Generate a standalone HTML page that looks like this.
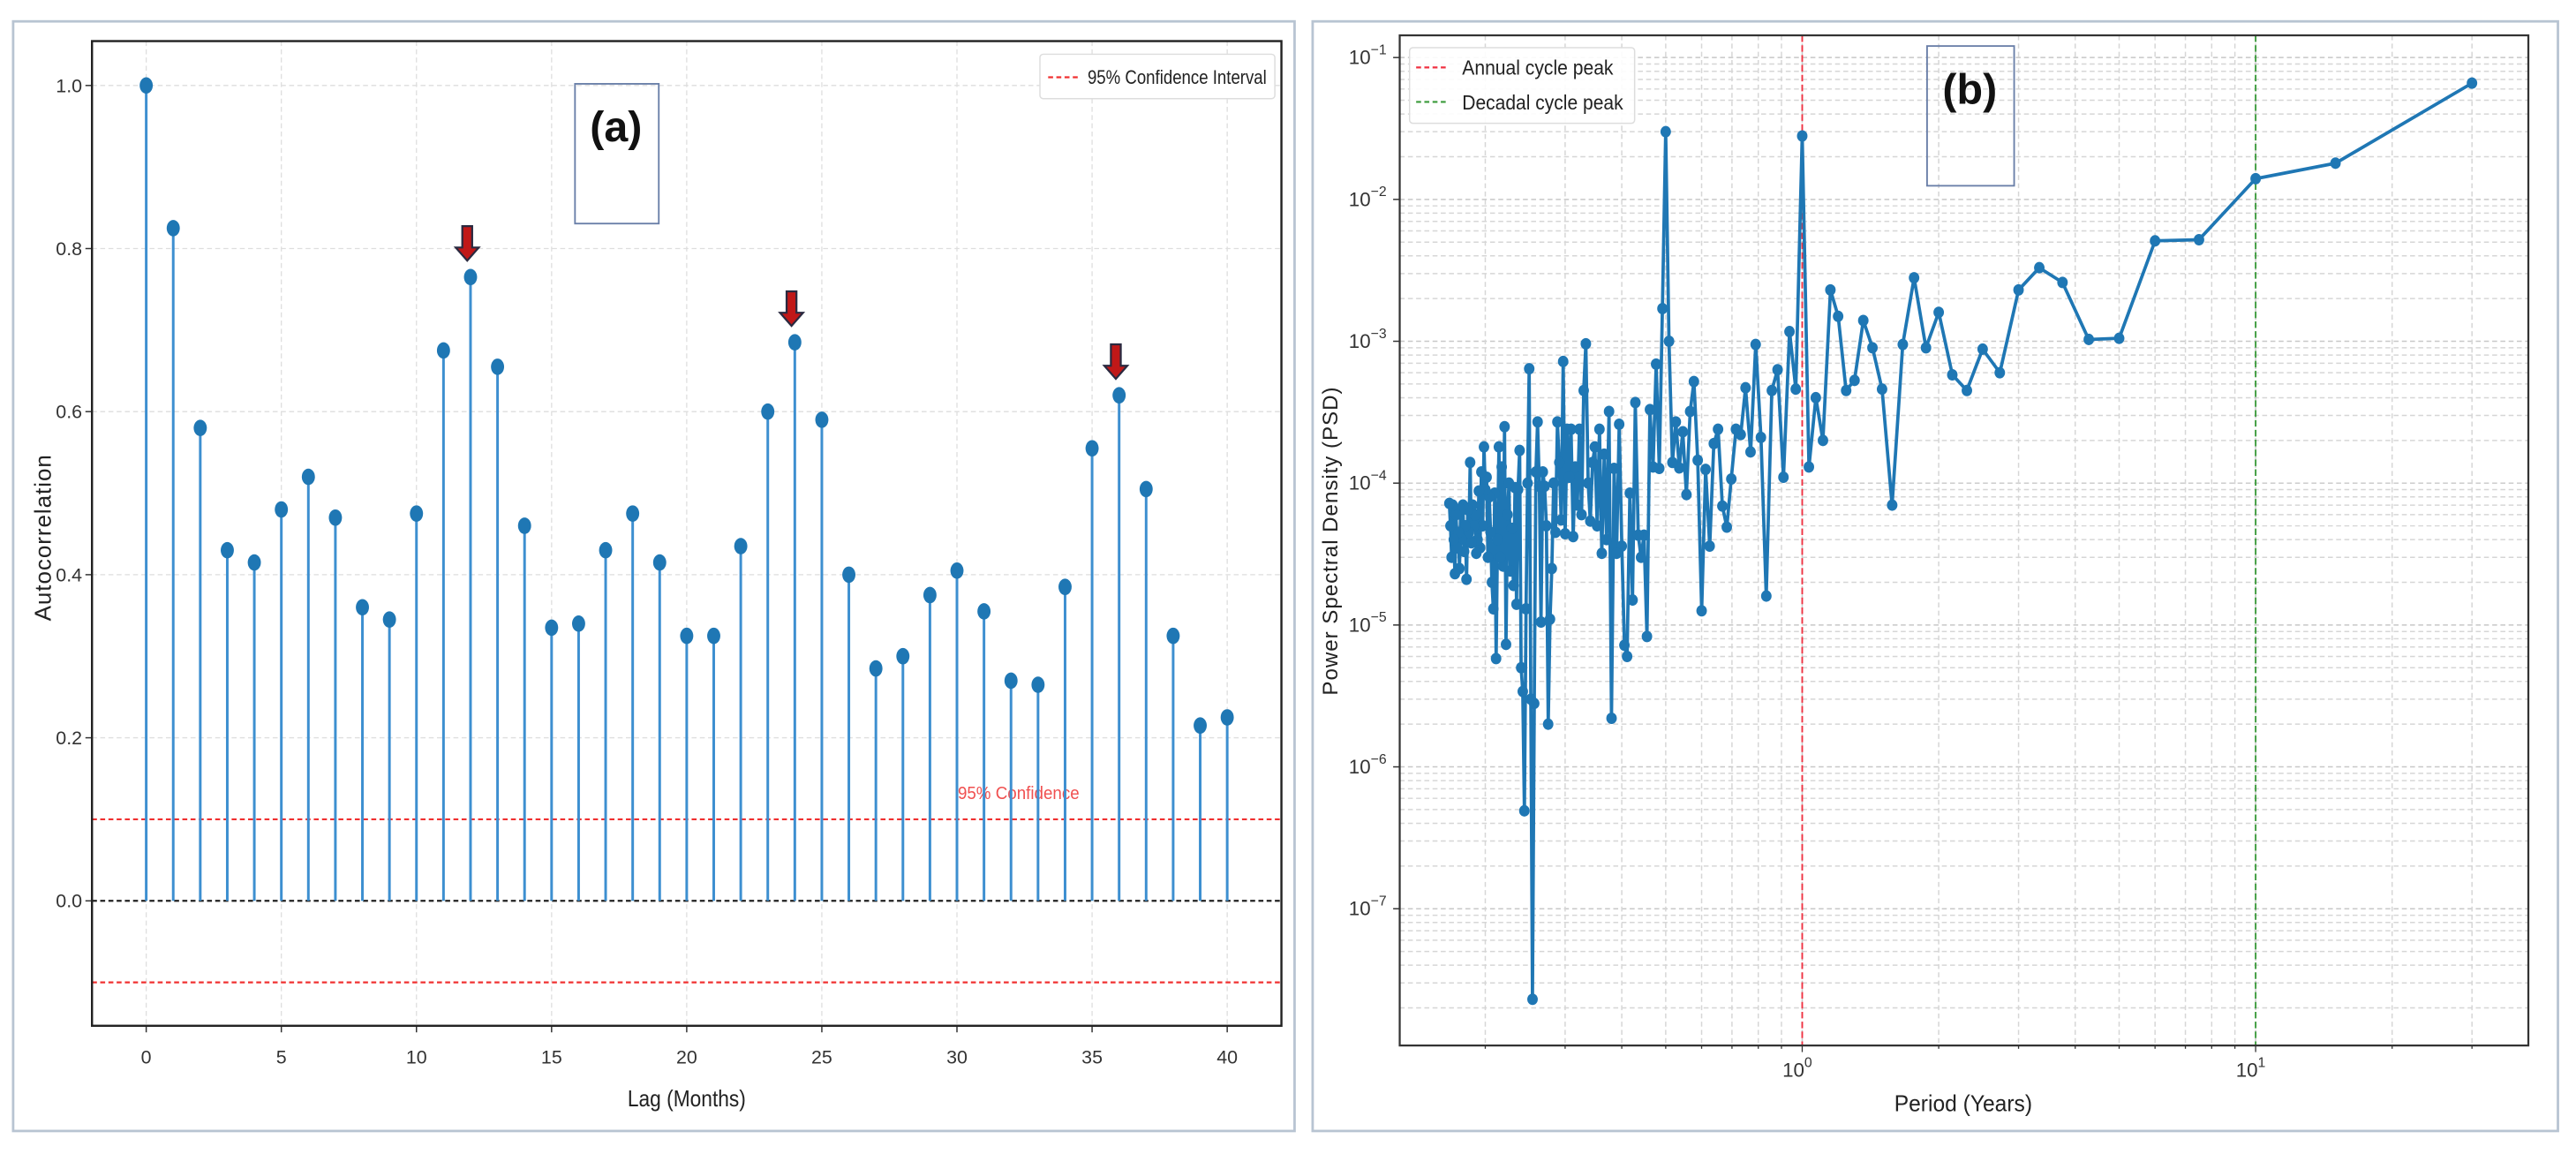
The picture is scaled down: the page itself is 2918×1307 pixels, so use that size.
<!DOCTYPE html>
<html><head><meta charset="utf-8">
<style>
html,body{margin:0;padding:0;background:#fff;}
svg{display:block;}
text{font-family:"Liberation Sans Narrow","Liberation Sans",sans-serif;}
</style></head>
<body>
<svg id="fig" width="2918" height="1307" viewBox="0 0 1568 702" preserveAspectRatio="none" xmlns="http://www.w3.org/2000/svg">
<rect x="0" y="0" width="1568" height="702" fill="#fff"/>
<rect x="8" y="13" width="780" height="675" fill="none" stroke="#b8c4d2" stroke-width="1.5"/>
<rect x="799" y="13" width="758" height="675" fill="none" stroke="#b8c4d2" stroke-width="1.5"/>
<g id="pa"></g>
<g id="pb"></g>
</svg>
<script>
// ---------- Panel (a) data ----------
const lags = [0,1,2,3,4,5,6,7,8,9,10,11,12,13,14,15,16,17,18,19,20,21,22,23,24,25,26,27,28,29,30,31,32,33,34,35,36,37,38,39,40];
const acfValues = [1.0,0.825,0.58,0.43,0.415,0.48,0.52,0.47,0.36,0.345,0.475,0.675,0.765,0.655,0.46,0.335,0.34,0.43,0.475,0.415,0.325,0.325,0.435,0.60,0.685,0.59,0.40,0.285,0.30,0.375,0.405,0.355,0.27,0.265,0.385,0.555,0.62,0.505,0.325,0.215,0.225];
const acfXTicks = [0,5,10,15,20,25,30,35,40];
const acfYTicks = [0.0,0.2,0.4,0.6,0.8,1.0];
const confLevel = [0.1,-0.1];
const arrowLags = [12,24,36];

// ---------- Panel (b) data ----------
const freqIndex = [];
for (let k = 1; k <= 180; k++) freqIndex.push(k);
const totalYears = 30;
const psdValues = [0.066,0.018,0.014,0.0052,0.0051,0.00105,0.00103,0.0026,0.0033,0.0023,
0.0006,0.00088,0.00045,0.00058,0.0016,0.0009,0.0028,0.00095,0.00007,0.00046,
0.0009,0.0014,0.00053,0.00045,0.0015,0.0023,0.0002,0.0004,0.00013,0.028,
0.00046,0.00117,0.00011,0.00063,0.00045,0.000016,0.00021,0.00095,0.000166,0.00047,
0.00022,0.00024,0.000107,0.000049,0.000069,0.00024,0.00019,0.000036,0.000125,0.0000126,
0.000145,0.00052,0.00032,0.000083,0.00023,0.000128,0.00027,0.00014,0.001,0.030,
0.0017,0.000127,0.00069,0.00013,0.00033,0.0000083,0.000043,0.00003,0.000043,0.00037,
0.000015,0.000085,0.000006,0.0000072,0.000036,0.00026,0.000032,0.000127,0.0000022,0.00032,
0.00004,0.00016,0.000032,0.00024,0.00005,0.00018,0.00014,0.000054,0.0001,0.00096,
0.00045,0.00006,0.00024,0.00007,0.00013,0.000042,0.00024,0.00011,0.00024,0.000044,
0.00072,0.000055,0.00014,0.00027,0.000045,0.0001,0.000025,0.000011,0.000002,0.00005,
0.000095,0.00012,0.0000105,0.000095,0.00027,0.00012,0.0000028,0.000000023,0.000003,0.00064,
0.0001,0.000013,0.00000049,0.0000034,0.000005,0.00017,0.00009,0.000014,0.000093,0.000019,
0.000048,0.000024,0.0001,0.00006,0.0000073,0.00025,0.000026,0.00013,0.00003,0.00018,
0.00004,0.0000058,0.000085,0.000013,0.00002,0.000045,0.00008,0.00003,0.00011,0.00009,
0.00018,0.00005,0.00012,0.000035,0.000088,0.00004,0.000032,0.00006,0.00005,0.00007,
0.000038,0.00014,0.000045,0.000065,0.000021,0.00005,0.000033,0.00007,0.00004,0.000065,
0.000025,0.000045,0.000035,0.00006,0.000023,0.00004,0.00007,0.00003,0.00005,0.000072];
const psdYTickExp = [-7,-6,-5,-4,-3,-2,-1];
const psdXTickExp = [0,1];
const annualPeriod = 1;
const decadalPeriod = 10;

const NS = "http://www.w3.org/2000/svg";
function mk(parent, tag, attrs, text) {
  const e = document.createElementNS(NS, tag);
  for (const k in attrs) e.setAttribute(k, attrs[k]);
  if (text !== undefined) e.textContent = text;
  parent.appendChild(e);
  return e;
}

// ---------- Panel (a) ----------
(function(){
  const g = document.getElementById('pa');
  const L = 56, R = 780, T = 25, B = 624;
  const xS = v => 89 + (v - 0) * (747 - 89) / 40;
  const yS = v => 548 - v * 496;
  acfXTicks.forEach(t => {
    const l = mk(g,'line',{x1:xS(t),x2:xS(t),y1:T,y2:B,stroke:'#dedede','stroke-width':0.7,'stroke-dasharray':'3 2'});
    
    
    const tx = mk(g,'text',{x:xS(t),y:647,'font-size':11.5,'text-anchor':'middle',fill:'#333'}, String(t));
    
    
    mk(g,'line',{x1:xS(t),x2:xS(t),y1:B,y2:B+4,stroke:'#333','stroke-width':0.8});
  });
  acfYTicks.forEach(t => {
    const l = mk(g,'line',{x1:L,x2:R,y1:yS(t),y2:yS(t),stroke:'#dedede','stroke-width':0.7,'stroke-dasharray':'3 2'});
    
    
    const tx = mk(g,'text',{x:L-6,y:yS(t)+4,'font-size':11.5,'text-anchor':'end',fill:'#333'}, t.toFixed(1));
    
    
    mk(g,'line',{x1:L-4,x2:L,y1:yS(t),y2:yS(t),stroke:'#333','stroke-width':0.8});
  });
  confLevel.forEach(c => {
    const l = mk(g,'line',{x1:L,x2:R,y1:yS(c),y2:yS(c),stroke:'#f03030','stroke-width':1.2,'stroke-dasharray':'3 2'});
    
    
  });
  const ct = mk(g,'text',{x:583,y:486,'font-size':11,fill:'#f05050',textLength:74,lengthAdjust:'spacingAndGlyphs'},'95% Confidence');
  
  
  const z = mk(g,'line',{x1:L,x2:R,y1:yS(0),y2:yS(0),stroke:'#222','stroke-width':1.2,'stroke-dasharray':'3 2'});
  
  
  lags.forEach((lag,i) => {
    const s = mk(g,'line',{x1:xS(lag),x2:xS(lag),y1:yS(0),y2:yS(acfValues[i]),stroke:'#3d8fd0','stroke-width':1.6});
    
    
    const d = mk(g,'ellipse',{cx:xS(lag),cy:yS(acfValues[i]),rx:4,ry:5,fill:'#1f77b4'});
    
    
  });
  arrowLags.forEach(lag => {
    const i = lags.indexOf(lag);
    const cx = xS(lag) - 2, tip = yS(acfValues[i]) - 10;
    const p = `M${cx-3},${tip-21} L${cx+3},${tip-21} L${cx+3},${tip-8} L${cx+7},${tip-8} L${cx},${tip} L${cx-7},${tip-8} L${cx-3},${tip-8} Z`;
    const a = mk(g,'path',{d:p,fill:'#c01818',stroke:'#2a2a40','stroke-width':1.2});
    
    
  });
  const f = mk(g,'rect',{x:L,y:T,width:R-L,height:B-T,fill:'none',stroke:'#222','stroke-width':1.3});
  
  
  const lg = mk(g,'g',{});
  
  
  mk(lg,'rect',{x:633,y:33,width:143,height:27,fill:'#fff',stroke:'#ddd','stroke-width':0.8,rx:2});
  mk(lg,'line',{x1:638,x2:656,y1:47,y2:47,stroke:'#f03030','stroke-width':1.2,'stroke-dasharray':'3 2'});
  const lt = mk(lg,'text',{x:662,y:51,'font-size':12,fill:'#222',textLength:109,lengthAdjust:'spacingAndGlyphs'},'95% Confidence Interval');
  
  
  const bx = mk(g,'rect',{x:350,y:51,width:51,height:85,fill:'none',stroke:'#6a7fa8','stroke-width':1});
  
  
  const pl = mk(g,'text',{x:375,y:86,'font-size':26,'font-weight':'bold','text-anchor':'middle',fill:'#111','font-family':'Liberation Serif, serif'},'(a)');
  
  
  const xl = mk(g,'text',{x:418,y:673,'font-size':14,'text-anchor':'middle',fill:'#222',textLength:72,lengthAdjust:'spacingAndGlyphs'},'Lag (Months)');
  
  
  const yl = mk(g,'text',{x:0,y:0,'font-size':14,'text-anchor':'middle',fill:'#222','font-family':'DejaVu Sans, sans-serif',transform:'translate(31,327) rotate(-90)','letter-spacing':'0.5'},'Autocorrelation');
  
  
})();

// ---------- Panel (b) ----------
(function(){
  const g = document.getElementById('pb');
  const L = 852, R = 1539, T = 21.5, B = 636;
  const xS = p => 1097 + 276 * Math.log10(p);
  const yS = v => 35 + (-1 - Math.log10(v)) * 86.3;
  for (let e = -9; e <= -1; e++) {
    for (let m = 1; m <= 9; m++) {
      const y = yS(m * Math.pow(10, e));
      if (y < T || y > B) continue;
      const l = mk(g,'line',{x1:L,x2:R,y1:y,y2:y,stroke: m===1?'#c8c8c8':'#d6d6d6','stroke-width':0.8,'stroke-dasharray':'3 2'});
      
      
    }
  }
  for (let e = -1; e <= 1; e++) {
    for (let m = 1; m <= 9; m++) {
      const x = xS(m * Math.pow(10, e));
      if (x < L || x > R) continue;
      const l = mk(g,'line',{x1:x,x2:x,y1:T,y2:B,stroke: m===1?'#c8c8c8':'#d6d6d6','stroke-width':0.8,'stroke-dasharray':'3 2'});
      
      
      mk(g,'line',{x1:x,x2:x,y1:B,y2:B+(m===1?4:2),stroke:'#333','stroke-width':0.7});
    }
  }
  psdYTickExp.forEach(e => {
    const y = yS(Math.pow(10,e));
    const t = mk(g,'text',{x:L-8,y:y+4,'font-size':12,'text-anchor':'end',fill:'#333'});
    
    
    t.appendChild(document.createTextNode('10'));
    mk(t,'tspan',{dy:-6,'font-size':8.5}, String(e).replace('-','\u2212'));
    mk(g,'line',{x1:L-4,x2:L,y1:y,y2:y,stroke:'#333','stroke-width':0.8});
  });
  psdXTickExp.forEach(e => {
    const x = xS(Math.pow(10,e));
    const t = mk(g,'text',{x:x-3,y:655,'font-size':12,'text-anchor':'middle',fill:'#333'});
    
    
    t.appendChild(document.createTextNode('10'));
    mk(t,'tspan',{dy:-6,'font-size':8.5}, String(e));
  });
  const rl = mk(g,'line',{x1:xS(annualPeriod),x2:xS(annualPeriod),y1:T,y2:B,stroke:'#f03040','stroke-width':1,'stroke-dasharray':'4 2'});
  
  
  const gl = mk(g,'line',{x1:xS(decadalPeriod),x2:xS(decadalPeriod),y1:T,y2:B,stroke:'#3a9a3a','stroke-width':1,'stroke-dasharray':'4 2'});
  
  
  const pts = freqIndex.map((k,i) => [xS(totalYears / k), yS(psdValues[i])]);
  const pl = mk(g,'polyline',{points:pts.map(p=>p[0].toFixed(1)+','+p[1].toFixed(1)).join(' '),fill:'none',stroke:'#1f77b4','stroke-width':2,'stroke-linejoin':'round'});
  
  
  pts.forEach(p => {
    const c = mk(g,'ellipse',{cx:p[0],cy:p[1],rx:3.2,ry:3.5,fill:'#1f77b4'});
    
    
  });
  const f = mk(g,'rect',{x:L,y:T,width:R-L,height:B-T,fill:'none',stroke:'#333','stroke-width':1.2});
  
  
  const lg = mk(g,'g',{});
  
  
  mk(lg,'rect',{x:858,y:29,width:137,height:46,fill:'#fff','fill-opacity':0.9,stroke:'#ddd','stroke-width':0.8,rx:2});
  mk(lg,'line',{x1:862,x2:882,y1:41,y2:41,stroke:'#f03040','stroke-width':1.2,'stroke-dasharray':'3 2'});
  const t1 = mk(lg,'text',{x:890,y:45.5,'font-size':12.5,fill:'#222',textLength:92,lengthAdjust:'spacingAndGlyphs'},'Annual cycle peak');
  
  
  mk(lg,'line',{x1:862,x2:882,y1:62,y2:62,stroke:'#3a9a3a','stroke-width':1.2,'stroke-dasharray':'3 2'});
  const t2 = mk(lg,'text',{x:890,y:66.5,'font-size':12.5,fill:'#222',textLength:98,lengthAdjust:'spacingAndGlyphs'},'Decadal cycle peak');
  
  
  const bx = mk(g,'rect',{x:1173,y:28,width:53,height:85,fill:'none',stroke:'#6a7fa8','stroke-width':1});
  
  
  const lb = mk(g,'text',{x:1199,y:63,'font-size':26,'font-weight':'bold','text-anchor':'middle',fill:'#111','font-family':'Liberation Serif, serif'},'(b)');
  
  
  const xl = mk(g,'text',{x:1195,y:676,'font-size':14,'text-anchor':'middle',fill:'#222',textLength:84,lengthAdjust:'spacingAndGlyphs'},'Period (Years)');
  
  
  const yl = mk(g,'text',{x:0,y:0,'font-size':13,'text-anchor':'middle',fill:'#222','font-family':'DejaVu Sans, sans-serif',transform:'translate(814,329) rotate(-90)','letter-spacing':'0.5'},'Power Spectral Density (PSD)');
  
  
})();
</script>
</body></html>
